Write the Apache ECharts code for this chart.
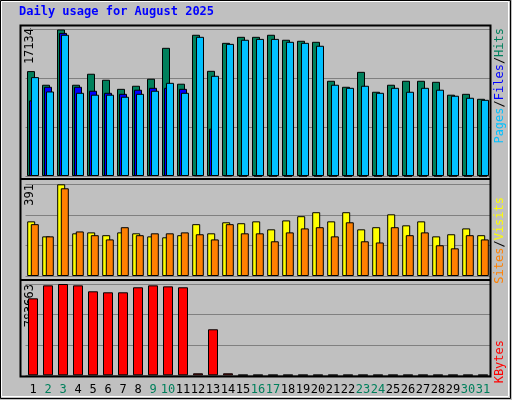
<!DOCTYPE html>
<html><head><meta charset="utf-8">
<script src="https://cdn.jsdelivr.net/npm/echarts@6/dist/echarts.min.js"></script>
<style>html,body{margin:0;padding:0;background:#c0c0c0}#c{width:512px;height:400px}</style>
</head><body><div id="c"></div>
<script>
const days = ['1','2','3','4','5','6','7','8','9','10','11','12','13','14','15','16','17','18','19','20','21','22','23','24','25','26','27','28','29','30','31'];
const weekend = [2,3,9,10,16,17,23,24,30,31];
const hits = [12268,10674,17134,10674,11960,11257,10195,10555,11377,14992,10794,16517,12302,15575,16277,16277,16517,15935,15815,15695,11137,10435,12182,9852,10674,11137,11137,11017,9509,9612,9030];
const files = [8841,10435,16740,10435,9972,9732,9612,10092,10315,10315,10195,80,5534,60,0,0,0,0,0,0,0,0,0,0,0,0,0,0,0,0,0];
const pages = [11565,9886,16517,9732,9509,9509,9270,9612,9972,10897,9732,16277,11720,15455,15935,16037,16037,15695,15575,15232,10674,10315,10555,9732,10315,9852,10315,10092,9389,9150,8910];
const visits = [233,169,391,182,186,174,186,182,169,165,174,221,182,229,225,233,199,237,255,272,233,272,199,208,263,216,233,169,178,203,174];
const sites = [221,169,374,190,174,156,208,174,182,182,186,178,156,221,182,182,148,186,203,208,169,229,148,143,208,174,186,131,118,174,156];
const kbytes = [660628,771908,783663,771908,720970,712350,712350,755451,771908,763288,755451,17240,394966,17240,4000,4000,4000,4000,4000,4000,4000,4000,4000,4000,4000,4000,4000,4000,4000,4000,4000];
const maxLabels = ['17134','391','783663'];
const maxVals = [17134,391,783663];

const font = 'DejaVu Sans Mono';
const grids = [
  {left:25.5,width:465,top:29.5,height:146.5},
  {left:25.5,width:465,top:184.3,height:91.7},
  {left:25.5,width:465,top:284,height:91.3}
];
const xAxes = grids.map((g,i)=>({type:'category',gridIndex:i,data:days,
  axisLine:{show:false},axisTick:{show:false},
  axisLabel:{show:i===2,interval:0,fontFamily:font,fontSize:12,margin:9,
    color:(v)=>weekend.includes(+v)?'#00805c':'#000'}}));
const yAxes = grids.map((g,i)=>({type:'value',gridIndex:i,min:0,max:maxVals[i],interval:maxVals[i]/3,
  axisLabel:{show:false},axisLine:{show:false},axisTick:{show:false},
  splitLine:{lineStyle:{color:'#808080',width:1}}}));
const bs = c=>({color:c,borderColor:'#000',borderWidth:1});
const series = [
  {type:'bar',xAxisIndex:0,yAxisIndex:0,data:hits,barWidth:8,barGap:'-75%',itemStyle:bs('#00805c'),animation:false},
  {type:'bar',xAxisIndex:0,yAxisIndex:0,data:files,barWidth:8,barGap:'-75%',itemStyle:bs('#0000ff'),animation:false},
  {type:'bar',xAxisIndex:0,yAxisIndex:0,data:pages,barWidth:8,barGap:'-75%',itemStyle:bs('#00c0ff'),animation:false},
  {type:'bar',xAxisIndex:1,yAxisIndex:1,data:visits,barWidth:8,barGap:'-55%',itemStyle:bs('#ffff00'),animation:false},
  {type:'bar',xAxisIndex:1,yAxisIndex:1,data:sites,barWidth:8,barGap:'-55%',itemStyle:bs('#ff8000'),animation:false},
  {type:'bar',xAxisIndex:2,yAxisIndex:2,data:kbytes,barWidth:10,itemStyle:bs('#ff0000'),animation:false}
];
const leftY = [28,184,284];
const graphic = [
  {type:'rect',shape:{x:0.5,y:0.5,width:510,height:398},style:{fill:null,stroke:'#000',lineWidth:1},z:-1},
  {type:'rect',shape:{x:1.5,y:1.5,width:507,height:395},style:{fill:null,stroke:'#fff',lineWidth:1},z:-1},
  {type:'rect',shape:{x:20.5,y:25.5,width:470,height:351},style:{fill:null,stroke:'#000',lineWidth:2},z:10},
  {type:'line',shape:{x1:20,y1:179,x2:491,y2:179},style:{stroke:'#000',lineWidth:2},z:10},
  {type:'line',shape:{x1:20,y1:280,x2:491,y2:280},style:{stroke:'#000',lineWidth:2},z:10},
  {type:'text',x:19,y:6,style:{text:'Daily usage for August 2025',font:'bold 12px "'+font+'"',fill:'#0000ff'}},
  ...maxLabels.map((t,i)=>({type:'text',x:36,y:leftY[i],rotation:Math.PI/2,
    style:{text:t,font:'12px "'+font+'"',fill:'#000',align:'right',verticalAlign:'bottom'}})),
  {type:'text',x:506,y:28,rotation:Math.PI/2,style:{text:'{p|Pages}{s|/}{f|Files}{s|/}{h|Hits}',align:'right',verticalAlign:'bottom',
    font:'12px "'+font+'"',rich:{p:{fill:'#00c0ff',font:'12px "'+font+'"'},f:{fill:'#0000ff',font:'12px "'+font+'"'},h:{fill:'#00805c',font:'12px "'+font+'"'},s:{fill:'#000',font:'12px "'+font+'"'}}}},
  {type:'text',x:506,y:197,rotation:Math.PI/2,style:{text:'{a|Sites}{s|/}{b|Visits}',align:'right',verticalAlign:'bottom',
    font:'12px "'+font+'"',rich:{a:{fill:'#ff8000',font:'12px "'+font+'"'},b:{fill:'#ffff00',font:'12px "'+font+'"'},s:{fill:'#000',font:'12px "'+font+'"'}}}},
  {type:'text',x:506,y:340,rotation:Math.PI/2,style:{text:'KBytes',align:'right',verticalAlign:'bottom',font:'12px "'+font+'"',fill:'#ff0000'}}
];
const chart = echarts.init(document.getElementById('c'));
chart.setOption({backgroundColor:'#c0c0c0',animation:false,grid:grids,xAxis:xAxes,yAxis:yAxes,series,graphic});
</script></body></html>
